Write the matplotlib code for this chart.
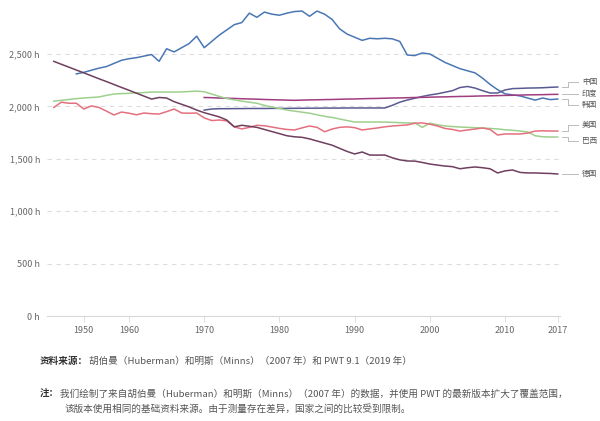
import matplotlib
matplotlib.use("Agg")
import matplotlib.pyplot as plt
import numpy as np

plt.rcParams['font.family'] = ['Noto Sans CJK SC', 'DejaVu Sans']

# annual working hours per worker
years_50 = list(range(1950, 2018))
years_53 = list(range(1953, 2018))
years_70 = list(range(1970, 2018))

korea = [2310, 2325, 2345, 2365, 2380, 2410, 2440, 2455, 2465, 2480,
         2495, 2430, 2550, 2520, 2560, 2600, 2670, 2560, 2620, 2680,
         2730, 2780, 2800, 2890, 2850, 2900, 2880, 2870, 2890, 2905,
         2910, 2860, 2910, 2880, 2830, 2740, 2690, 2660, 2630, 2650,
         2645, 2650, 2645, 2620, 2490, 2485, 2510, 2500, 2460, 2420,
         2390, 2360, 2340, 2320, 2270, 2210, 2160, 2120, 2110, 2100,
         2080, 2060, 2080, 2065, 2070]

germany = [2430, 2402, 2375, 2347, 2320, 2292, 2264, 2237, 2209, 2181,
           2154, 2126, 2098, 2070, 2085, 2080, 2045, 2020, 1995, 1965,
           1940, 1920, 1900, 1870, 1805, 1820, 1810, 1800, 1780, 1760,
           1740, 1720, 1710, 1705, 1690, 1670, 1650, 1630, 1600, 1570,
           1546, 1565, 1536, 1535, 1536, 1510, 1490, 1479, 1478, 1465,
           1450, 1440, 1431, 1425, 1405, 1415, 1422, 1415, 1405, 1365,
           1385, 1393, 1370, 1365, 1365, 1362, 1360, 1355]

usa = [1990, 2040, 2030, 2030, 1975, 2005, 1990, 1955, 1918, 1946,
       1935, 1920, 1937, 1930, 1927, 1950, 1975, 1937, 1935, 1937,
       1890, 1865, 1870, 1862, 1805, 1785, 1800, 1820, 1815, 1803,
       1790, 1780, 1775, 1795, 1813, 1800, 1758, 1784, 1800, 1805,
       1797, 1775, 1785, 1794, 1805, 1813, 1818, 1823, 1840, 1842,
       1830, 1813, 1790, 1780, 1765, 1775, 1784, 1794, 1780, 1727,
       1737, 1737, 1737, 1745, 1765, 1767, 1765, 1765]

brazil = [2050, 2058, 2066, 2074, 2080, 2085, 2090, 2105, 2118, 2122,
          2125, 2128, 2132, 2137, 2137, 2137, 2137, 2138, 2142, 2146,
          2140, 2118, 2095, 2075, 2062, 2050, 2040, 2030, 2010, 1994,
          1980, 1965, 1955, 1945, 1935, 1920, 1905, 1895, 1880, 1865,
          1851, 1851, 1851, 1851, 1851, 1848, 1845, 1842, 1842, 1800,
          1840, 1825, 1813, 1808, 1803, 1800, 1797, 1794, 1790, 1785,
          1777, 1772, 1765, 1756, 1720, 1710, 1708, 1708]

india = [2085, 2083, 2080, 2078, 2076, 2073, 2071, 2069, 2066, 2064,
         2062, 2060, 2058, 2060, 2062, 2063, 2065, 2066, 2068, 2070,
         2071, 2073, 2075, 2076, 2078, 2080, 2081, 2083, 2085, 2086,
         2088, 2090, 2091, 2093, 2095, 2096, 2098, 2100, 2101, 2103,
         2105, 2106, 2108, 2110, 2111, 2112, 2114, 2115]

china = [1965, 1975, 1978, 1978, 1979, 1979, 1980, 1980, 1980, 1981,
         1981, 1981, 1982, 1982, 1983, 1983, 1984, 1984, 1984, 1985,
         1985, 1985, 1985, 1985, 1985, 2010, 2040, 2061, 2078, 2095,
         2109, 2120, 2135, 2150, 2180, 2190, 2175, 2150, 2128, 2128,
         2157, 2170, 2172, 2175, 2176, 2178, 2182, 2185]

tick_years = [1960, 1970, 1980, 1990, 2000, 2010, 2017]
y_ticks = [0, 500, 1000, 1500, 2000, 2500]

fig = plt.figure(figsize=(6, 4.21), dpi=100)
ax = fig.add_axes([47 / 600, 1 - 316 / 421, 513 / 600, 3000 / 9.542 / 421])

ax.plot(years_53, korea, color='#4a77b4', lw=1.1)
ax.plot(years_70, china, color='#5a5a92', lw=1.1)
ax.plot(years_70, india, color='#a03d80', lw=1.1)
ax.plot(years_50, brazil, color='#9ed08d', lw=1.1)
ax.plot(years_50, usa, color='#e4707e', lw=1.1)
ax.plot(years_50, germany, color='#6e3f5e', lw=1.1)

ax.set_xlim(1949.1, 2017.3)
ax.set_ylim(0, 3000)

# dashed gridlines
for v in y_ticks[1:]:
    ax.axhline(v, color='#dddddd', lw=0.8, ls=(0, (4, 4)), zorder=0)

for s in ['top', 'right', 'left']:
    ax.spines[s].set_visible(False)
ax.spines['bottom'].set_color('#d8d8d8')
ax.spines['bottom'].set_linewidth(0.8)

ax.set_yticks(y_ticks)
ax.set_yticklabels(['{:,} h'.format(v) for v in y_ticks])
ax.tick_params(axis='y', length=0, pad=5, labelsize=6.5, labelcolor='#666666')

# first label sits a little right of the axis start, as in the original
ax.set_xticks([1954] + tick_years)
ax.set_xticklabels(['1950'] + [str(t) for t in tick_years])
ax.tick_params(axis='x', length=4, width=0.6, color='#d8d8d8', pad=3,
               labelsize=6.5, labelcolor='#666666')

# right-hand labels with little connectors
end_labels = [
    ('中国', china[-1], 2233),
    ('印度', india[-1], 2118),
    ('韩国', korea[-1], 2013),
    ('美国', usa[-1], 1823),
    ('巴西', brazil[-1], 1670),
    ('德国', germany[-1], 1355),
]
for name, y_end, y_lab in end_labels:
    ax.plot([2017.6, 2018.4, 2018.4, 2019.7], [y_end, y_end, y_lab, y_lab],
            color='#bbbbbb', lw=0.7, clip_on=False)
    ax.text(2020.2, y_lab, name, fontsize=5.5, color='#555555',
            va='center', ha='left', clip_on=False)

# footer
renderer = fig.canvas.get_renderer()
FS = 6.9


def footer_line(x, y, bold, rest):
    t = fig.text(x, y, bold, fontsize=FS, fontweight='bold', color='#333333',
                 va='center')
    bb = t.get_window_extent(renderer)
    fig.text((bb.x1 + 0.5) / fig.bbox.width, y, rest, fontsize=FS,
             color='#555555', va='center')


footer_line(40 / 600, 1 - 361 / 421, '资料来源：',
            '胡伯曼（Huberman）和明斯（Minns）（2007 年）和 PWT 9.1（2019 年）')
footer_line(40 / 600, 1 - 394 / 421, '注：',
            '我们绘制了来自胡伯曼（Huberman）和明斯（Minns）（2007 年）的数据，并使用 PWT 的最新版本扩大了覆盖范围，')
fig.text(65 / 600, 1 - 409 / 421,
         '该版本使用相同的基础资料来源。由于测量存在差异，国家之间的比较受到限制。',
         fontsize=FS, color='#555555', va='center')

fig.savefig('out.png', dpi=100)
